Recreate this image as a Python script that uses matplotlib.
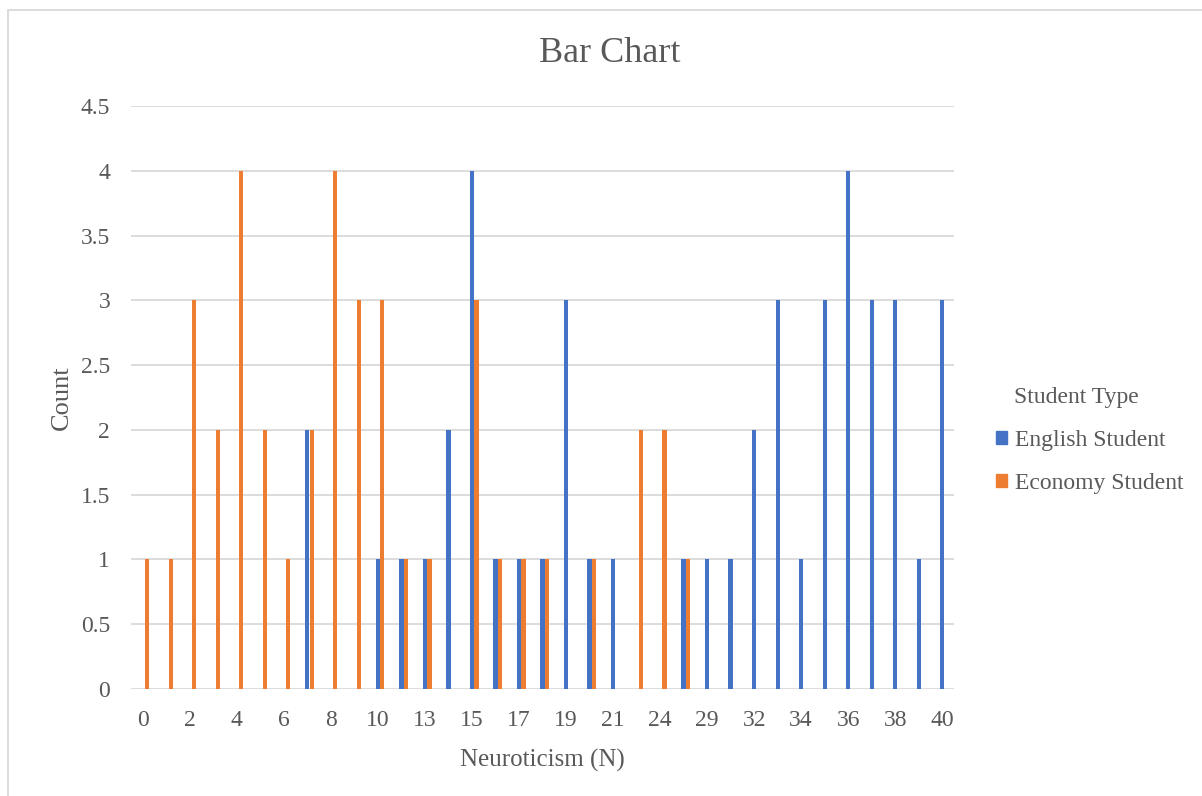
import numpy as np
import matplotlib
matplotlib.use('Agg')
import matplotlib.pyplot as plt
from matplotlib.patches import Patch, Rectangle

# Neuroticism scores (categories) and counts per student type
scores = [0, 1, 2, 3, 4, 5, 6, 7, 8, 9, 10, 12, 13, 14, 15, 16, 17, 18, 19, 20,
          21, 23, 24, 26, 29, 30, 32, 33, 34, 35, 36, 37, 38, 39, 40]
english = [0, 0, 0, 0, 0, 0, 0, 2, 0, 0, 1, 1, 1, 2, 4, 1, 1, 1, 3, 1,
           1, 0, 0, 1, 1, 1, 2, 3, 1, 3, 4, 3, 3, 1, 3]
economy = [1, 1, 3, 2, 4, 2, 1, 2, 4, 3, 3, 1, 1, 0, 3, 1, 1, 1, 0, 1,
           0, 2, 2, 1, 0, 0, 0, 0, 0, 0, 0, 0, 0, 0, 0]

blue = '#4472C4'
orange = '#ED7D31'
text_col = '#595959'
grid_col = '#D9D9D9'

plt.rcParams['font.family'] = ['Liberation Serif', 'DejaVu Serif']

fig = plt.figure(figsize=(12.02, 7.96), dpi=100)
ax = fig.add_axes([131 / 1202, 1 - 689 / 796, (954 - 131) / 1202, (689 - 106) / 796])

x = np.arange(len(scores))
w = 0.18
ax.bar(x, english, width=w, color=blue, zorder=3)
ax.bar(x + 0.19, economy, width=w, color=orange, zorder=3)

ax.set_xlim(-0.5, len(scores) - 0.5)
ax.set_ylim(0, 4.5)
ax.set_yticks(np.arange(0, 4.51, 0.5))
ax.set_yticklabels(['0', '0.5', '1', '1.5', '2', '2.5', '3', '3.5', '4', '4.5'])
ax.set_xticks(x[::2])
ax.set_xticklabels([str(s) for s in scores[::2]])

ax.grid(axis='y', color=grid_col, linewidth=1.3, zorder=0)
for s in ax.spines.values():
    s.set_visible(False)
ax.tick_params(axis='both', length=0, labelsize=17, colors=text_col)
ax.tick_params(axis='y', pad=15)
ax.tick_params(axis='x', pad=15)

fig.text(610 / 1202, 1 - 54 / 796, 'Bar Chart', fontsize=26, color=text_col,
         ha='center', va='center')
ax.set_xlabel('Neuroticism (N)', fontsize=18, color=text_col, labelpad=13)
ax.set_ylabel('Count', fontsize=19, color=text_col, labelpad=6)

# legend: title drawn separately so it lines up with the entry text
fig.text(1014 / 1202, 1 - 398 / 796, 'Student Type', fontsize=17, color=text_col,
         ha='left', va='center')
handles = [Patch(color=blue, label='English Student'),
           Patch(color=orange, label='Economy Student')]
leg = fig.legend(handles=handles, loc='center left',
                 bbox_to_anchor=(975 / 1202, 1 - 462 / 796), frameon=False,
                 fontsize=17, handlelength=0.45, handleheight=0.45,
                 handletextpad=0.35, labelspacing=0.92)
for t in leg.get_texts():
    t.set_color(text_col)

# chart area border
fig.patches.append(Rectangle((8 / 1202, -0.05), 1.1, 1 - 10 / 796 + 0.05,
                             transform=fig.transFigure, fill=False,
                             edgecolor='#D9D9D9', linewidth=1.3))

fig.savefig('out.png', dpi=100)
